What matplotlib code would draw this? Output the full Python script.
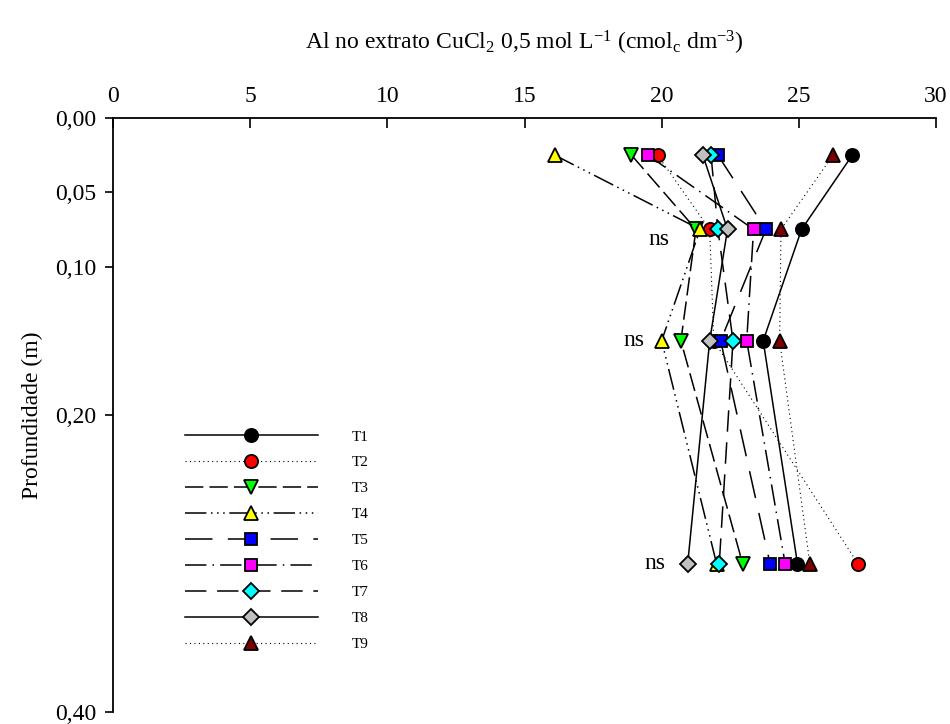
import matplotlib
matplotlib.use("Agg")
import matplotlib.pyplot as plt

plt.rcParams["font.family"] = ["Liberation Serif", "DejaVu Serif"]
plt.rcParams["mathtext.fontset"] = "custom"
plt.rcParams["mathtext.rm"] = "Liberation Serif"
plt.rcParams["mathtext.it"] = "Liberation Serif:italic"

depth = [0.025, 0.075, 0.15, 0.30]

t1 = [26.95, 25.1, 23.7, 24.95]
t2 = [19.85, 21.75, 21.9, 27.15]
t3 = [18.9, 21.25, 20.7, 22.95]
t4 = [16.1, 21.4, 20.0, 22.0]
t5 = [22.05, 23.8, 22.15, 23.95]
t6 = [19.5, 23.35, 23.1, 24.5]
t7 = [21.8, 22.05, 22.6, 22.1]
t8 = [21.5, 22.4, 21.75, 20.95]
t9 = [26.25, 24.35, 24.3, 25.4]

names = ["T1", "T2", "T3", "T4", "T5", "T6", "T7", "T8", "T9"]
series = [t1, t2, t3, t4, t5, t6, t7, t8, t9]

# ns labels (x, depth)
ns_x = [19.9, 19.0, 19.75]
ns_y = [0.082, 0.15, 0.30]

xticks = [0, 5, 10, 15, 20, 25, 30]
yticks = [0.0, 0.05, 0.10, 0.20, 0.40]
ytick_labels = ["0,00", "0,05", "0,10", "0,20", "0,40"]

colors = ["black", "#ff0000", "#00ff00", "#ffff00", "#0000ff",
          "#ff00ff", "#00ffff", "#c0c0c0", "#800000"]
markers = ["o", "o", "v", "^", "s", "s", "D", "D", "^"]
msizes = [9.5, 9.5, 9.5, 9.5, 8.5, 8.5, 8, 8, 9.5]
styles = [
    "-",
    (0, (1, 3)),
    (0, (12, 4)),
    (0, (14, 3, 1, 3, 1, 3, 1, 3)),
    (0, (18, 10)),
    (0, (14, 4, 1, 4)),
    (0, (14, 7)),
    "-",
    (0, (1, 3)),
]
widths = [1.1, 0.8, 1.1, 1.1, 1.1, 1.1, 1.1, 1.1, 0.8]


def main():
    fig = plt.figure(figsize=(9.5, 7.24), dpi=100)
    ax = fig.add_axes([113 / 950, 1 - 712 / 724, (936 - 113) / 950, (712 - 118) / 724])

    for i in range(len(series)):
        ax.plot(series[i], depth, linestyle=styles[i], color="black",
                linewidth=widths[i], marker=markers[i], markersize=msizes[i],
                markerfacecolor=colors[i], markeredgecolor="black",
                markeredgewidth=1.3, label=names[i])

    for x, y in zip(ns_x, ns_y):
        ax.text(x, y, "ns", fontsize=17, ha="center", va="center")

    ax.set_xlim(0, 30)
    ax.set_ylim(0.40, 0.0)
    ax.xaxis.tick_top()
    ax.xaxis.set_label_position("top")
    ax.set_xticks(xticks)
    ax.set_yticks(yticks)
    ax.set_yticklabels(ytick_labels)
    ax.tick_params(axis="x", direction="in", length=7, width=1.2, labelsize=17, pad=8)
    ax.tick_params(axis="y", direction="out", length=6, width=1.2, labelsize=17, pad=6)
    for side in ["right", "bottom"]:
        ax.spines[side].set_visible(False)
    for side in ["top", "left"]:
        ax.spines[side].set_linewidth(1.3)

    ax.set_xlabel(r"Al no extrato CuCl$_2$ 0,5 mol L$^{-1}$ (cmol$_\mathrm{c}$ dm$^{-3}$)",
                  fontsize=17, labelpad=26)
    ax.set_ylabel("Profundidade (m)", fontsize=17, labelpad=9)

    ax.legend(loc="upper left", bbox_to_anchor=(0.0875, 0.475), frameon=False,
              fontsize=11, handlelength=8.7, handletextpad=2.2,
              labelspacing=0.8, borderpad=0, borderaxespad=0, numpoints=1)

    fig.savefig("out.png", dpi=100)


if __name__ == "__main__":
    main()
